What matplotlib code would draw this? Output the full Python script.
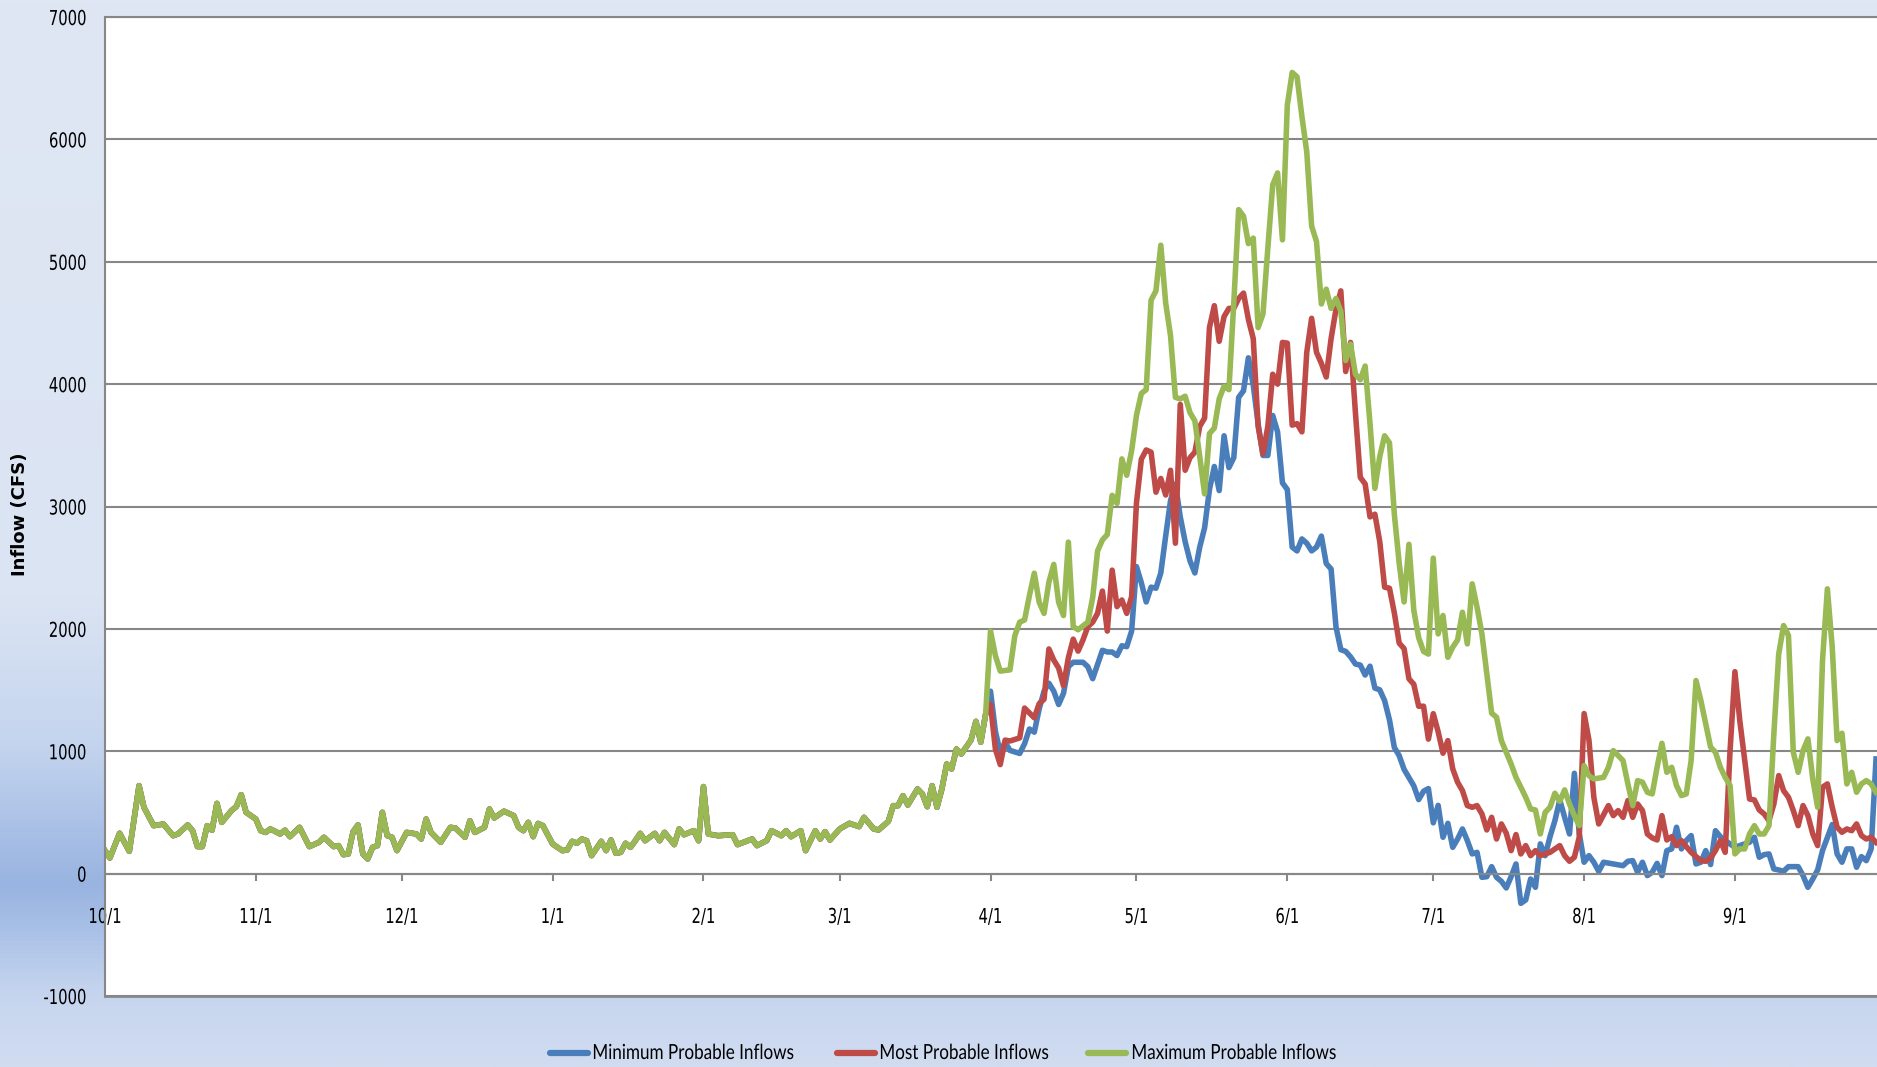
import numpy as np
import matplotlib.pyplot as plt
from matplotlib.colors import LinearSegmentedColormap
from matplotlib.lines import Line2D
from matplotlib.patheffects import AbstractPathEffect
from matplotlib.transforms import Affine2D

plt.rcParams['font.family'] = ['DejaVu Sans']
plt.rcParams['axes.unicode_minus'] = False

# x axis: days since 10/1
month_days = [0, 31, 61, 92, 123, 151, 182, 212, 243, 273, 304, 335]
month_labels = ['10/1', '11/1', '12/1', '1/1', '2/1', '3/1', '4/1', '5/1',
                '6/1', '7/1', '8/1', '9/1']

# (day, cfs) - all three forecasts are the same until 4/1
shared = [(0,188),(1,128),(3,330),(5,182),(7,719),(8,542),(10,392),(12,405),(14,310),(15,324),
          (17,398),(18,351),(19,221),(20,221),(21,392),(22,355),(23,574),(24,419),(26,515),(27,548),
          (28,645),(29,501),(31,446),(32,351),(33,337),(34,365),(36,324),(37,355),(38,302),(40,378),
          (42,221),(44,256),(45,297),(47,221),(48,229),(49,155),(50,161),(51,343),(52,398),(53,161),
          (54,120),(55,215),(56,229),(57,501),(58,310),(59,297),(60,188),(62,337),(64,324),(65,283),
          (66,446),(67,337),(69,256),(71,378),(72,373),(74,297),(75,432),(76,337),(78,378),(79,528),
          (80,455),(82,510),(84,474),(85,378),(86,351),(87,419),(88,302),(89,410),(90,392),(92,242),
          (94,188),(95,193),(96,264),(97,248),(98,283),(99,269),(100,147),(102,264),(103,188),(104,275),
          (105,166),(106,174),(107,248),(108,215),(109,269),(110,329),(111,269),(113,329),(114,269),(115,337),
          (117,237),(118,365),(119,318),(121,351),(122,269),(123,711),(124,324),(126,310),(129,318),(130,237),
          (133,283),(134,229),(136,270),(137,351),(139,310),(140,351),(141,302),(143,351),(144,188),(146,351),
          (147,283),(148,343),(149,275),(151,365),(153,411),(155,384),(156,460),(158,365),(159,357),(161,427),
          (162,555),(163,555),(164,637),(165,561),(167,692),(168,651),(169,547),(170,719),(171,542),(172,692),
          (173,896),(174,855),(175,1018),(176,977),(178,1092),(179,1244),(180,1073),(181,1304)]

min_spring = [(182,1491),(183,1164),(184,989),(185,1073),(186,1007),(188,982),(189,1062),(190,1182),(191,1156),(192,1345),
              (193,1491),(194,1556),(195,1491),(196,1382),(197,1473),(198,1691),(199,1727),(201,1727),(202,1691),(203,1593),
              (204,1709),(205,1825),(206,1811),(207,1811),(208,1782),(209,1862),(210,1855),(211,1982),(212,2509),(213,2377),
              (214,2220),(215,2341),(216,2332),(217,2457),(218,2758),(219,3049),(220,3184),(221,2915),(222,2713),(223,2556),
              (224,2457),(225,2668),(226,2825),(227,3139),(228,3327),(229,3130),(230,3578),(231,3318),(232,3399),(233,3892),
              (234,3946),(235,4215),(236,3991),(237,3677),(238,3417),(239,3417),(240,3744),(241,3610),(242,3193),(243,3139),
              (244,2668),(245,2637),(246,2735),(247,2700),(248,2637),(249,2668),(250,2758),(251,2534),(252,2489),(253,2018),
              (254,1830),(255,1816),(256,1771),(257,1713),(258,1704),(259,1623),(260,1695),(261,1516),(262,1502),(263,1413),
              (264,1256),(265,1031),(266,964),(267,852),(268,785),(269,717),(270,605),(271,673),(272,695),(273,415),
              (274,558),(275,297),(276,411),(277,215),(278,283),(279,365),(280,270),(281,161),(282,174),(283,-30),
              (284,-25),(285,57),(286,-30),(287,-63),(288,-117),(289,-25),(290,79),(291,-243),(292,-215),(293,-44),
              (294,-112),(295,243),(296,147),(297,302),(298,433),(299,602),(300,460),(301,324),(302,820),(303,330),
              (304,93),(305,147),(306,93),(307,19),(308,93),(310,79),(312,65),(313,101),(314,106),(315,11),
              (316,93),(317,-16),(318,11),(319,84),(320,-16),(321,188),(322,202),(323,379),(324,202),(325,270),
              (326,311),(327,79),(328,93),(329,188),(330,74),(331,351),(332,302),(333,270),(334,243),(335,215),
              (337,243),(338,256),(339,297),(340,134),(341,155),(342,161),(343,38),(344,30),(345,19),(346,57),
              (348,57),(349,-16),(350,-112),(351,-44),(352,30),(353,188),(355,401),(356,161),(357,93),(358,202),
              (359,202),(360,52),(361,139),(362,106),(363,202),(364,937)]

most_spring = [(182,1382),(183,1018),(184,891),(185,1091),(186,1084),(188,1109),(189,1353),(191,1273),(192,1389),(193,1425),
               (194,1836),(195,1745),(196,1680),(197,1535),(198,1764),(199,1916),(200,1818),(201,1909),(202,2018),(203,2055),
               (204,2127),(205,2309),(206,1982),(207,2480),(208,2182),(209,2236),(210,2127),(211,2262),(212,3030),(213,3386),
               (214,3462),(215,3444),(216,3117),(217,3229),(218,3094),(219,3296),(220,2700),(221,3834),(222,3296),(223,3399),
               (224,3444),(225,3655),(226,3722),(227,4462),(228,4641),(229,4350),(230,4552),(231,4619),(232,4619),(233,4700),
               (234,4744),(235,4529),(236,4372),(237,3655),(238,3430),(239,3655),(240,4081),(241,4000),(242,4341),(243,4335),
               (244,3665),(245,3677),(246,3610),(247,4260),(248,4538),(249,4260),(250,4170),(251,4058),(252,4372),(253,4610),
               (254,4762),(255,4103),(256,4341),(257,3767),(258,3238),(259,3184),(260,2915),(261,2937),(262,2713),(263,2341),
               (264,2332),(265,2130),(266,1883),(267,1839),(268,1592),(269,1547),(270,1368),(271,1368),(272,1099),(273,1307),
               (274,1160),(275,984),(276,1087),(277,856),(278,747),(279,678),(280,556),(281,542),(282,556),(283,488),
               (284,357),(285,460),(286,283),(287,406),(288,330),(289,188),(290,319),(291,161),(292,229),(293,147),
               (294,188),(295,147),(296,161),(297,174),(299,229),(300,147),(301,101),(302,134),(303,297),(304,1308),
               (305,1090),(306,624),(307,406),(309,556),(310,474),(311,515),(312,460),(313,597),(314,460),(315,569),
               (316,515),(317,324),(318,292),(319,275),(320,474),(321,275),(322,302),(323,229),(324,270),(325,221),
               (326,174),(328,106),(329,101),(330,128),(331,188),(332,270),(333,174),(334,1005),(335,1650),(336,1250),
               (338,610),(339,602),(340,520),(341,488),(342,433),(343,569),(344,801),(345,678),(346,624),(347,515),
               (348,392),(349,556),(350,474),(351,324),(352,229),(353,706),(354,733),(355,542),(356,379),(357,338),
               (358,365),(359,351),(360,406),(361,311),(362,283),(363,297),(364,256)]

max_spring = [(182,1982),(183,1782),(184,1655),(186,1665),(187,1945),(188,2055),(189,2073),(190,2273),(191,2455),(192,2218),
              (193,2127),(194,2382),(195,2527),(196,2218),(197,2109),(198,2709),(199,2018),(200,1993),(202,2055),(203,2255),
              (204,2636),(205,2727),(206,2771),(207,3091),(208,3025),(209,3389),(210,3255),(211,3455),(212,3745),(213,3924),
              (214,3955),(215,4686),(216,4762),(217,5135),(218,4664),(219,4395),(220,3892),(221,3879),(222,3901),(223,3767),
              (224,3700),(225,3408),(226,3103),(227,3596),(228,3641),(229,3879),(230,3982),(231,3955),(232,4664),(233,5426),
              (234,5372),(235,5148),(236,5193),(237,4462),(238,4574),(239,5112),(240,5628),(241,5726),(242,5179),(243,6278),
              (244,6547),(245,6511),(246,6188),(247,5897),(248,5291),(249,5166),(250,4655),(251,4776),(252,4619),(253,4700),
              (254,4596),(255,4193),(256,4327),(257,4081),(258,4036),(259,4148),(260,3677),(261,3148),(262,3408),(263,3578),
              (264,3520),(265,2937),(266,2534),(267,2220),(268,2691),(269,2152),(270,1928),(271,1816),(272,1794),(273,2578),
              (274,1959),(275,2109),(276,1768),(277,1850),(278,1910),(279,2136),(280,1877),(281,2368),(282,2177),(283,1959),
              (284,1632),(285,1311),(286,1278),(287,1087),(289,896),(290,787),(291,706),(292,624),(293,529),(294,520),
              (295,324),(296,501),(297,542),(298,657),(299,591),(300,684),(301,569),(302,474),(303,392),(304,883),
              (305,800),(306,774),(308,787),(309,869),(310,1005),(311,965),(312,924),(313,733),(314,556),(315,760),
              (316,747),(317,665),(318,651),(319,869),(320,1065),(321,828),(322,869),(323,719),(324,638),(325,651),
              (326,924),(327,1578),(328,1414),(329,1223),(330,1033),(331,992),(332,869),(333,787),(334,720),(335,161),
              (336,202),(337,202),(338,324),(339,392),(340,324),(341,324),(342,392),(343,1142),(344,1796),(345,2027),
              (346,1946),(347,992),(348,828),(349,1005),(350,1101),(351,774),(352,542),(353,1741),(354,2327),(355,1850),
              (356,1087),(357,1147),(358,733),(359,828),(360,665),(361,733),(362,760),(363,733),(364,665)]

series = [('Minimum Probable Inflows', min_spring, '#4a7ebb'),
          ('Most Probable Inflows', most_spring, '#be4b48'),
          ('Maximum Probable Inflows', max_spring, '#98b954')]


class Squeeze(AbstractPathEffect):
    # the original picture is squashed sideways, so narrow the glyphs in x
    def __init__(self, sx, align='center'):
        super().__init__()
        self.sx = sx
        self.align = align

    def draw_path(self, renderer, gc, tpath, affine, rgbFace=None):
        ext = tpath.get_extents(affine)
        if self.align == 'left':
            x0 = ext.x0
        elif self.align == 'right':
            x0 = ext.x1
        else:
            x0 = (ext.x0 + ext.x1) / 2
        sq = Affine2D().translate(-x0, 0).scale(self.sx, 1).translate(x0, 0)
        renderer.draw_path(gc, tpath, affine + sq, rgbFace)


W, H = 1877, 1067
fig = plt.figure(figsize=(W / 100, H / 100), dpi=100)

# blue gradient background
bg = fig.add_axes([0, 0, 1, 1], zorder=-10)
bg_cmap = LinearSegmentedColormap.from_list('bg', [
    (0.0, '#dfe7f4'), (0.56, '#dbe4f3'), (0.70, '#c4d4ee'), (0.78, '#a9c0e6'),
    (0.83, '#99b4e1'), (0.87, '#a7bfe6'), (0.93, '#c5d4ee'), (1.0, '#d1dcf1')])
bg.imshow(np.linspace(0, 1, 500).reshape(-1, 1), aspect='auto', cmap=bg_cmap,
          extent=[0, 1, 0, 1], origin='upper')
bg.axis('off')

ax = fig.add_axes([105 / W, 1 - 996 / H, (W - 105) / W, (996 - 17) / H])
ax.set_facecolor('white')

for name, pts, color in series:
    days, flow = zip(*(shared + pts))
    ax.plot(days, flow, color=color, lw=4, label=name, solid_joinstyle='round')

ax.set_xlim(0, 364.2)
ax.set_ylim(-1000, 7000)
ax.set_yticks(range(-1000, 7001, 1000))
ax.set_xticks(month_days)
ax.set_xticklabels(month_labels)
ax.yaxis.grid(True, color='#878787', lw=1.5)
ax.set_axisbelow(True)
ax.axhline(-1000, color='#878787', lw=2, clip_on=False, zorder=0.5)
ax.axhline(7000, color='#878787', lw=1.5, clip_on=False, zorder=0.5)

for s in ['top', 'right']:
    ax.spines[s].set_visible(False)
ax.spines['left'].set_color('#878787')
ax.spines['left'].set_linewidth(1.5)
ax.spines['bottom'].set_position(('data', 0))
ax.spines['bottom'].set_color('#878787')
ax.spines['bottom'].set_linewidth(1.5)

ax.tick_params(axis='y', length=0, pad=13, labelsize=14.8)
ax.tick_params(axis='x', direction='out', length=5, width=1.5, color='#878787',
               pad=19, labelsize=14.8)
for lbl in ax.get_yticklabels():
    lbl.set_path_effects([Squeeze(0.72, 'right')])
for lbl in ax.get_xticklabels():
    lbl.set_path_effects([Squeeze(0.72, 'center')])

fig.text(20 / W, 1 - 514 / H, 'Inflow (CFS)', rotation=90, ha='center', va='center',
         fontweight='bold', fontsize=13)

# legend along the bottom
leg_y = 1 - 1053 / H
leg_slots = [(550, 592), (837, 879), (1088, 1131)]
for (name, pts, color), (hx, tx) in zip(series, leg_slots):
    fig.add_artist(Line2D([hx / W, (hx + 38) / W], [leg_y, leg_y], transform=fig.transFigure,
                          color=color, lw=4.5, solid_capstyle='round'))
    t = fig.text(tx / W, leg_y, name, ha='left', va='center', family='Lato', fontsize=15)
    t.set_path_effects([Squeeze(0.82, 'left')])

fig.savefig('out.png', dpi=100)
